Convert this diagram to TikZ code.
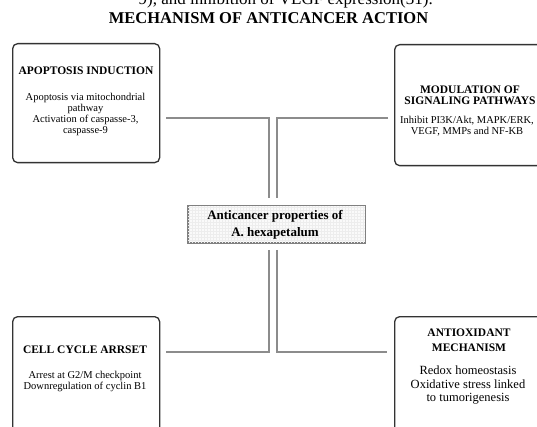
\documentclass[tikz,border=0pt]{standalone}
\usepackage{fontspec}
\setmainfont{Liberation Serif}
\begin{document}
\begin{tikzpicture}[x=1pt,y=-1pt,
  box/.style={draw=black!80, line width=1.3pt, rounded corners=5pt, anchor=north west},
  link/.style={draw=black!45, line width=1.1pt},
  ttl/.style={font=\bfseries\fontsize{11.5}{11}\selectfont, align=center, inner sep=0pt},
  bdy/.style={font=\fontsize{10.5}{11}\selectfont, align=center, inner sep=0pt}]
\useasboundingbox (0,0) rectangle (537,427);
\clip (0,0) rectangle (537,427);
% clipped running text line at the top
\node[font=\fontsize{17}{17}\selectfont, anchor=base east, inner sep=0pt] (runin) at (433,5) {9), and inhibition of VEGF expression(31).};
\node[font=\bfseries\fontsize{16.5}{17}\selectfont, inner sep=0pt] (title) at (268.5,18) {MECHANISM OF ANTICANCER ACTION};
% boxes
\node[box, minimum width=147pt, minimum height=119pt] (apo) at (12,43) {};
\node[box, minimum width=150pt, minimum height=121pt] (mod) at (394,44) {};
\node[box, minimum width=147pt, minimum height=130pt] (cell) at (12,316) {};
\node[box, minimum width=150pt, minimum height=130pt] (anti) at (394,316) {};
% box texts
\node[ttl] (apoT) at (86,71) {APOPTOSIS INDUCTION};
\node[bdy] (apoB) at (85.5,114) {Apoptosis via mitochondrial\\pathway\\Activation of caspasse-3,\\caspasse-9};
\node[ttl] (modT) at (470,95) {MODULATION OF\\SIGNALING PATHWAYS};
\node[bdy] (modB) at (467,126.5) {Inhibit PI3K/Akt, MAPK/ERK,\\VEGF, MMPs and NF-KB};
\node[ttl] (cellT) at (85,350) {CELL CYCLE ARRSET};
\node[bdy] (cellB) at (85,381) {Arrest at G2/M checkpoint\\Downregulation of cyclin B1};
\node[ttl, font=\bfseries\fontsize{11.5}{15}\selectfont] (antiT) at (469,340.5) {ANTIOXIDANT\\MECHANISM};
\node[bdy, font=\fontsize{12.5}{13.5}\selectfont] (antiB) at (468,385.5) {Redox homeostasis\\Oxidative stress linked\\to tumorigenesis};
% centre box
\node[draw=black!50, line width=1pt, fill=black!2, minimum width=177pt, minimum height=37pt, inner sep=0pt] (core) at (276.5,224.5) {};
\begin{scope}
\clip (core.south west) rectangle (core.north east);
\draw[black!7, line width=0.3pt, step=3pt] (core.south west) grid (core.north east);
\end{scope}
\draw[black!50, line width=1pt] (core.south west) rectangle (core.north east);
\node[font=\bfseries\fontsize{13}{17}\selectfont, align=center, inner sep=0pt] (coreT) at (275,224.5) {Anticancer properties of\\A. hexapetalum};
% connector points
\coordinate (a1) at (166,118);
\coordinate (a2) at (269,198);
\coordinate (b1) at (388,118);
\coordinate (b2) at (277,198);
\coordinate (c1) at (269,250);
\coordinate (c2) at (166,352);
\coordinate (d1) at (277,250);
\coordinate (d2) at (387,352);
\draw[link] (a1) -| (a2);
\draw[link] (b1) -| (b2);
\draw[link] (c1) |- (c2);
\draw[link] (d1) |- (d2);
\end{tikzpicture}
\end{document}
